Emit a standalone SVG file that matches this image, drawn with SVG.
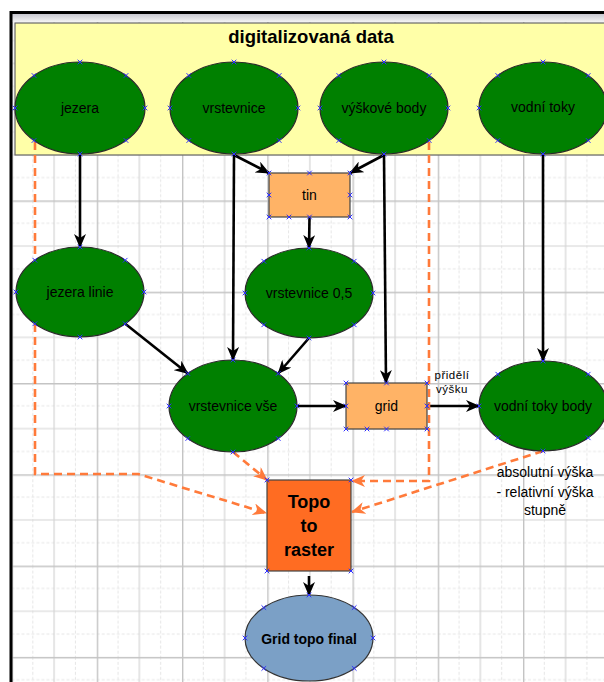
<svg xmlns="http://www.w3.org/2000/svg" xmlns:xlink="http://www.w3.org/1999/xlink" width="604" height="682" viewBox="0 0 604 682">
<style>
.ell{fill:#008000;stroke:#2a2a2a;stroke-width:1.2}
.box{fill:#ffb366;stroke:#444;stroke-width:1.2}
.lbl{font-family:"Liberation Sans",Arial,sans-serif;font-size:14px;fill:#000;text-anchor:middle}
.bold{font-weight:bold}
.con{stroke:#000;stroke-width:2.6;fill:none;marker-end:url(#ah)}
.dash{stroke:#ff7a3a;stroke-width:2.6;fill:none;stroke-dasharray:8 5}
.dasha{marker-end:url(#ao)}
.gmaj{stroke:#c4c4c4;stroke-width:1.4}
.gmed{stroke:#d4d4d4;stroke-width:1.2}
.gmin{stroke:#e6e6e6;stroke-width:1;stroke-dasharray:3 2}
</style>
<defs>
<pattern id="grid" patternUnits="userSpaceOnUse" x="11.5" y="17.8" width="85.25" height="91.3">
<line class="gmin" x1="21.3" y1="0" x2="21.3" y2="91.3"/>
<line class="gmin" x1="63.9" y1="0" x2="63.9" y2="91.3"/>
<line class="gmin" x1="0" y1="22.8" x2="85.25" y2="22.8"/>
<line class="gmin" x1="0" y1="68.5" x2="85.25" y2="68.5"/>
<line class="gmed" x1="42.6" y1="0" x2="42.6" y2="91.3"/>
<line class="gmed" x1="0" y1="45.65" x2="85.25" y2="45.65"/>
<line class="gmaj" x1="0.7" y1="0" x2="0.7" y2="91.3"/>
<line class="gmaj" x1="0" y1="0.7" x2="85.25" y2="0.7"/>
</pattern>
<linearGradient id="band" x1="0" y1="0" x2="0" y2="1">
<stop offset="0" stop-color="#c8c8d0"/>
<stop offset="1" stop-color="#f4f4f4"/>
</linearGradient>
<marker id="ah" viewBox="0 0 14 12" markerWidth="14" markerHeight="12" refX="13" refY="6" orient="auto" markerUnits="userSpaceOnUse">
<path d="M0,0 L14,6 L0,12 L4,6 z" fill="#000"/>
</marker>
<marker id="ao" viewBox="0 0 14 12" markerWidth="14" markerHeight="12" refX="13" refY="6" orient="auto" markerUnits="userSpaceOnUse">
<path d="M0,0 L14,6 L0,12 L4,6 z" fill="#ff7a3a"/>
</marker>
<path id="x" d="M-2.3,-2.3 L2.3,2.3 M-2.3,2.3 L2.3,-2.3" stroke="#3030ff" stroke-width="1"/>
</defs>

<rect x="0" y="0" width="604" height="682" fill="#fff"/>
<rect x="12" y="14" width="592" height="668" fill="url(#grid)"/>
<rect x="12" y="14" width="592" height="8" fill="url(#band)"/>
<rect x="11" y="12.5" width="700" height="700" fill="none" stroke="#000" stroke-width="3"/>

<g id="digitalizovana-data">
<rect x="15" y="23" width="600" height="132" fill="#ffffa8" stroke="#666" stroke-width="1.2"/>
<text class="lbl bold" x="311" y="43" style="font-size:18.5px">digitalizovaná data</text>
</g>

<g id="connectors">
<line class="con" x1="80" y1="155" x2="80" y2="247"/>
<line class="con" x1="234" y1="155" x2="269" y2="173"/>
<line class="con" x1="384" y1="155" x2="350" y2="173"/>
<line class="con" x1="309.5" y1="217" x2="309" y2="248"/>
<line class="con" x1="234" y1="155" x2="233" y2="360"/>
<line class="con" x1="384" y1="155" x2="386" y2="383"/>
<line class="con" x1="543" y1="155" x2="543" y2="361"/>
<line class="con" x1="125.2" y1="323.8" x2="187.8" y2="373.5"/>
<line class="con" x1="309" y1="338" x2="278.2" y2="373.5"/>
<line class="con" x1="297" y1="406" x2="346" y2="406"/>
<line class="con" x1="427" y1="406" x2="479" y2="406"/>
<line class="con" x1="309" y1="576" x2="309" y2="595"/>
<path class="dash dasha" d="M35,142 V474 H138 L266,513"/>
<path class="dash dasha" d="M429,142 V481 H352"/>
<path class="dash dasha" d="M233,452 L267,480"/>
<path class="dash dasha" d="M543,451 L352,512"/>
</g>

<g id="jezera">
<ellipse class="ell" cx="80" cy="108" rx="65" ry="46"/>
<text class="lbl" x="80" y="113">jezera</text>
<use href="#x" x="80" y="62"/><use href="#x" x="80" y="154"/><use href="#x" x="15" y="108"/><use href="#x" x="145" y="108"/>
<use href="#x" x="34" y="75.5"/><use href="#x" x="126" y="75.5"/><use href="#x" x="34" y="140.5"/><use href="#x" x="126" y="140.5"/>
</g>
<g id="vrstevnice">
<ellipse class="ell" cx="234" cy="108" rx="64" ry="46"/>
<text class="lbl" x="234" y="113">vrstevnice</text>
<use href="#x" x="234" y="62"/><use href="#x" x="234" y="154"/><use href="#x" x="170" y="108"/><use href="#x" x="298" y="108"/>
<use href="#x" x="188.8" y="75.5"/><use href="#x" x="279.2" y="75.5"/><use href="#x" x="188.8" y="140.5"/><use href="#x" x="279.2" y="140.5"/>
</g>
<g id="vyskove-body">
<ellipse class="ell" cx="384" cy="108" rx="64" ry="46"/>
<text class="lbl" x="384" y="113">výškové body</text>
<use href="#x" x="384" y="62"/><use href="#x" x="384" y="154"/><use href="#x" x="320" y="108"/><use href="#x" x="448" y="108"/>
<use href="#x" x="338.8" y="75.5"/><use href="#x" x="429.2" y="75.5"/><use href="#x" x="338.8" y="140.5"/><use href="#x" x="429.2" y="140.5"/>
</g>
<g id="vodni-toky">
<ellipse class="ell" cx="543" cy="108" rx="64" ry="46"/>
<text class="lbl" x="543" y="112">vodní toky</text>
<use href="#x" x="543" y="62"/><use href="#x" x="543" y="154"/><use href="#x" x="479" y="108"/>
<use href="#x" x="497.8" y="75.5"/><use href="#x" x="588.2" y="75.5"/><use href="#x" x="497.8" y="140.5"/><use href="#x" x="588.2" y="140.5"/>
</g>
<g id="tin">
<rect class="box" x="269" y="173" width="81" height="44"/>
<text class="lbl" x="309.5" y="200">tin</text>
<use href="#x" x="269" y="173"/><use href="#x" x="309.5" y="173"/><use href="#x" x="350" y="173"/><use href="#x" x="269" y="195"/><use href="#x" x="350" y="195"/>
<use href="#x" x="269" y="217"/><use href="#x" x="289" y="217"/><use href="#x" x="309.5" y="217"/><use href="#x" x="350" y="217"/>
</g>
<g id="jezera-linie">
<ellipse class="ell" cx="80" cy="292" rx="64" ry="45"/>
<text class="lbl" x="80" y="297">jezera linie</text>
<use href="#x" x="80" y="247"/><use href="#x" x="80" y="337"/><use href="#x" x="16" y="292"/><use href="#x" x="144" y="292"/>
<use href="#x" x="34.8" y="260.2"/><use href="#x" x="125.2" y="260.2"/><use href="#x" x="34.8" y="323.8"/><use href="#x" x="125.2" y="323.8"/>
</g>
<g id="vrstevnice-05">
<ellipse class="ell" cx="309" cy="293" rx="64" ry="45"/>
<text class="lbl" x="309" y="298">vrstevnice 0,5</text>
<use href="#x" x="309" y="248"/><use href="#x" x="309" y="338"/><use href="#x" x="245" y="293"/><use href="#x" x="373" y="293"/>
<use href="#x" x="263.8" y="261.2"/><use href="#x" x="354.2" y="261.2"/><use href="#x" x="263.8" y="324.8"/><use href="#x" x="354.2" y="324.8"/>
</g>
<g id="vrstevnice-vse">
<ellipse class="ell" cx="233" cy="406" rx="64" ry="46"/>
<text class="lbl" x="233" y="411">vrstevnice vše</text>
<use href="#x" x="233" y="360"/><use href="#x" x="233" y="452"/><use href="#x" x="169" y="406"/><use href="#x" x="297" y="406"/>
<use href="#x" x="187.8" y="373.5"/><use href="#x" x="278.2" y="373.5"/><use href="#x" x="187.8" y="438.5"/><use href="#x" x="278.2" y="438.5"/>
</g>
<g id="grid-node">
<rect class="box" x="346" y="383" width="81" height="46"/>
<text class="lbl" x="386.5" y="411">grid</text>
<use href="#x" x="346" y="383"/><use href="#x" x="386.5" y="383"/><use href="#x" x="427" y="383"/><use href="#x" x="346" y="406"/><use href="#x" x="427" y="406"/>
<use href="#x" x="346" y="429"/><use href="#x" x="367" y="429"/><use href="#x" x="386.5" y="429"/><use href="#x" x="427" y="429"/>
</g>
<g id="label-prideli">
<text class="lbl" x="452" y="379" style="font-size:11.5px;letter-spacing:0.5px;fill:#000">přidělí</text>
<text class="lbl" x="452" y="393" style="font-size:11.5px;letter-spacing:0.5px;fill:#000">výšku</text>
</g>
<g id="vodni-toky-body">
<ellipse class="ell" cx="543" cy="406" rx="64" ry="45"/>
<text class="lbl" x="543" y="411">vodní toky body</text>
<use href="#x" x="543" y="361"/><use href="#x" x="543" y="451"/><use href="#x" x="479" y="406"/>
<use href="#x" x="497.8" y="374.2"/><use href="#x" x="588.2" y="374.2"/><use href="#x" x="497.8" y="437.8"/><use href="#x" x="588.2" y="437.8"/>
</g>
<g id="label-absolutni">
<text class="lbl" x="545" y="477">absolutní výška</text>
<text class="lbl" x="545" y="497">- relativní výška</text>
<text class="lbl" x="545" y="515">stupně</text>
</g>
<g id="topo-to-raster">
<rect x="267" y="480" width="84" height="91" fill="#ff6c22" stroke="#444" stroke-width="1.2"/>
<text class="lbl bold" x="309" y="508" style="font-size:18px">Topo</text>
<text class="lbl bold" x="309" y="532" style="font-size:18px">to</text>
<text class="lbl bold" x="309" y="556" style="font-size:18px">raster</text>
<use href="#x" x="267" y="480"/><use href="#x" x="351" y="480"/><use href="#x" x="267" y="571"/><use href="#x" x="351" y="571"/>
</g>
<g id="grid-topo-final">
<ellipse cx="309" cy="638" rx="64" ry="43" fill="#7ba0c6" stroke="#333" stroke-width="1.2"/>
<text class="lbl bold" x="309" y="644" style="font-size:14px">Grid topo final</text>
<use href="#x" x="309" y="595"/><use href="#x" x="245" y="638"/><use href="#x" x="373" y="638"/>
<use href="#x" x="263.8" y="607.6"/><use href="#x" x="354.2" y="607.6"/><use href="#x" x="263.8" y="668.4"/><use href="#x" x="354.2" y="668.4"/>
</g>
</svg>
